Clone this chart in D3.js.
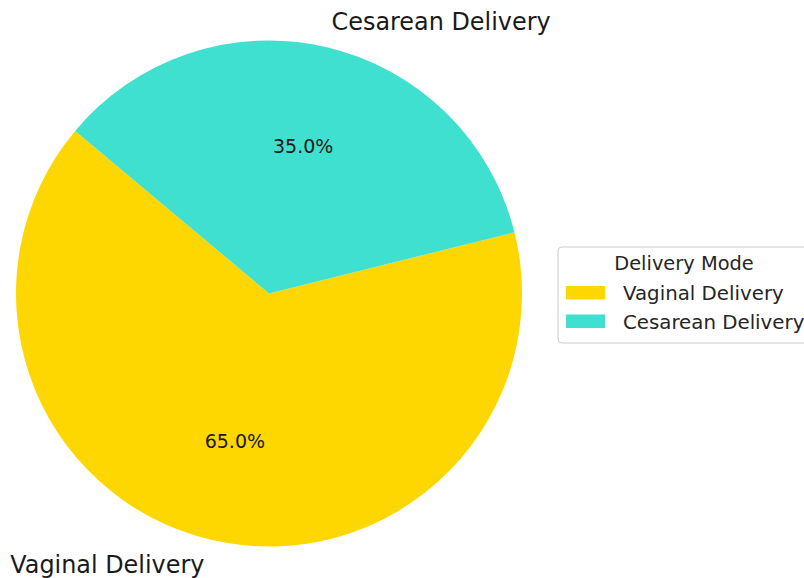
<!DOCTYPE html>
<html>
<head>
<meta charset="utf-8">
<script src="https://cdn.jsdelivr.net/npm/d3@7"></script>
<style>
  html, body { margin: 0; padding: 0; background: #fff; }
  svg { display: block; }
  text { font-family: "DejaVu Sans", sans-serif; }
</style>
</head>
<body>
<svg id="chart" width="804" height="578"></svg>
<script>
const categories = ["Vaginal Delivery", "Cesarean Delivery"];
const values = [65, 35];
const colors = ["#FFD700", "#40E0D0"];
const legendTitle = "Delivery Mode";

const W = 804, H = 578;
const cx = 269, cy = 293.5, R = 253;
const svg = d3.select("#chart");

const data = categories.map((c, i) => ({ name: c, value: values[i], color: colors[i] }));

// matplotlib startangle=140 counterclockwise -> d3 angle (clockwise from top) = 90 - 140 = -50deg
const start = -50 * Math.PI / 180;
const pie = d3.pie().sort(null).value(d => d.value)
  .startAngle(start).endAngle(start - 2 * Math.PI);
const arcs = pie(data);
const total = d3.sum(values);

const arc = d3.arc().innerRadius(0).outerRadius(R);
const g = svg.append("g").attr("transform", `translate(${cx},${cy})`);

g.selectAll("path.slice").data(arcs).enter().append("path")
  .attr("class", "slice")
  .attr("d", arc)
  .attr("fill", d => d.data.color);

function mid(d) { return (d.startAngle + d.endAngle) / 2; }

// percentage labels at 0.6 R
g.selectAll("text.pct").data(arcs).enter().append("text")
  .attr("class", "pct")
  .attr("x", d => Math.sin(mid(d)) * R * 0.6)
  .attr("y", d => -Math.cos(mid(d)) * R * 0.6)
  .attr("text-anchor", "middle")
  .attr("dominant-baseline", "central")
  .attr("font-size", 19)
  .attr("fill", "#1a1a1a")
  .text(d => (d.data.value / total * 100).toFixed(1) + "%");

// outer labels at 1.1 R
g.selectAll("text.lbl").data(arcs).enter().append("text")
  .attr("class", "lbl")
  .attr("x", d => Math.sin(mid(d)) * R * 1.1 + (Math.sin(mid(d)) < 0 ? -2 : 0))
  .attr("y", d => -Math.cos(mid(d)) * R * 1.1)
  .attr("text-anchor", d => Math.sin(mid(d)) < 0 ? "end" : "start")
  .attr("dominant-baseline", "central")
  .attr("font-size", 23.9)
  .attr("fill", "#1a1a1a")
  .text(d => d.data.name);

// legend
const lg = svg.append("g").attr("transform", "translate(558,247)");
lg.append("rect")
  .attr("x", 0).attr("y", 0).attr("width", 270).attr("height", 96)
  .attr("rx", 4).attr("ry", 4)
  .attr("fill", "#fff").attr("stroke", "#cccccc").attr("stroke-width", 1);
lg.append("text")
  .attr("x", 126).attr("y", 23)
  .attr("text-anchor", "middle")
  .attr("font-size", 19.4)
  .attr("fill", "#262626")
  .text(legendTitle);
const items = lg.selectAll("g.item").data(data).enter().append("g")
  .attr("class", "item")
  .attr("transform", (d, i) => `translate(0,${i * 28.5})`);
items.append("rect")
  .attr("x", 8).attr("y", 39).attr("width", 39).attr("height", 13.5)
  .attr("fill", d => d.color);
items.append("text")
  .attr("x", 65).attr("y", 53)
  .attr("font-size", 19.8)
  .attr("fill", "#262626")
  .text(d => d.name);
</script>
</body>
</html>
